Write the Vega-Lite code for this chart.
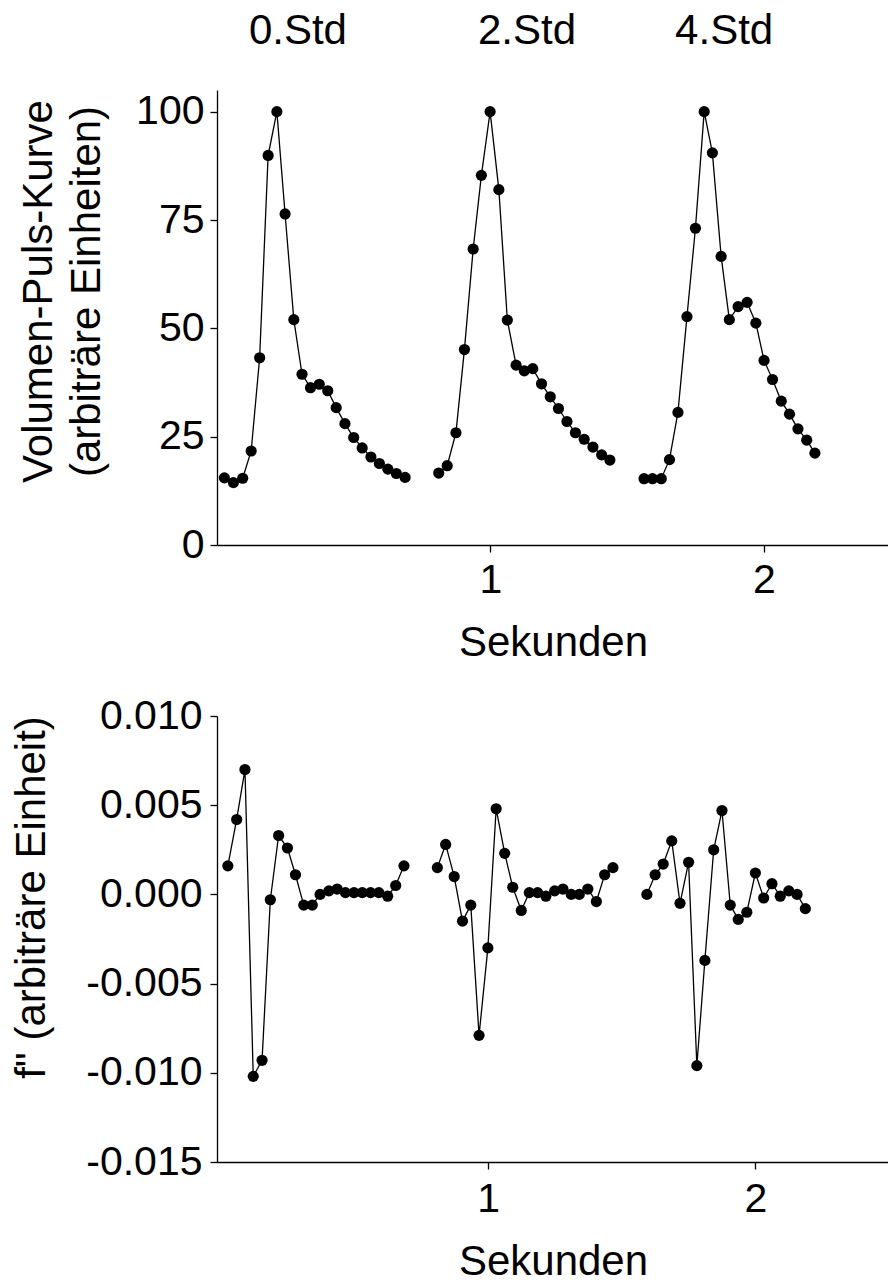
{
  "$schema": "https://vega.github.io/schema/vega-lite/v6.json",
  "padding": {"left": 9, "top": 9, "right": 0, "bottom": 0},
  "spacing": 32,
  "datasets": {
    "vpk": [
      {"t": 0.027, "v": 15.5, "c": 1}, {"t": 0.060, "v": 14.4, "c": 1}, {"t": 0.094, "v": 15.4, "c": 1}, {"t": 0.125, "v": 21.7, "c": 1},
      {"t": 0.156, "v": 43.2, "c": 1}, {"t": 0.187, "v": 89.9, "c": 1}, {"t": 0.219, "v": 100, "c": 1}, {"t": 0.249, "v": 76.4, "c": 1},
      {"t": 0.281, "v": 52.0, "c": 1}, {"t": 0.311, "v": 39.4, "c": 1}, {"t": 0.342, "v": 36.3, "c": 1}, {"t": 0.374, "v": 37.1, "c": 1},
      {"t": 0.405, "v": 35.6, "c": 1}, {"t": 0.436, "v": 31.7, "c": 1}, {"t": 0.468, "v": 28.0, "c": 1}, {"t": 0.500, "v": 24.8, "c": 1},
      {"t": 0.531, "v": 22.4, "c": 1}, {"t": 0.563, "v": 20.3, "c": 1}, {"t": 0.594, "v": 18.8, "c": 1}, {"t": 0.625, "v": 17.5, "c": 1},
      {"t": 0.656, "v": 16.5, "c": 1}, {"t": 0.688, "v": 15.6, "c": 1},
      {"t": 0.811, "v": 16.6, "c": 2}, {"t": 0.842, "v": 18.3, "c": 2}, {"t": 0.874, "v": 25.9, "c": 2}, {"t": 0.905, "v": 45.1, "c": 2},
      {"t": 0.937, "v": 68.3, "c": 2}, {"t": 0.967, "v": 85.3, "c": 2}, {"t": 0.999, "v": 100, "c": 2}, {"t": 1.031, "v": 82.0, "c": 2},
      {"t": 1.062, "v": 51.9, "c": 2}, {"t": 1.094, "v": 41.5, "c": 2}, {"t": 1.124, "v": 40.2, "c": 2}, {"t": 1.155, "v": 40.7, "c": 2},
      {"t": 1.187, "v": 37.2, "c": 2}, {"t": 1.219, "v": 34.2, "c": 2}, {"t": 1.249, "v": 31.5, "c": 2}, {"t": 1.280, "v": 28.5, "c": 2},
      {"t": 1.311, "v": 25.9, "c": 2}, {"t": 1.343, "v": 24.4, "c": 2}, {"t": 1.375, "v": 22.6, "c": 2}, {"t": 1.407, "v": 20.8, "c": 2},
      {"t": 1.437, "v": 19.6, "c": 2},
      {"t": 1.562, "v": 15.3, "c": 3}, {"t": 1.593, "v": 15.3, "c": 3}, {"t": 1.625, "v": 15.3, "c": 3}, {"t": 1.655, "v": 19.7, "c": 3},
      {"t": 1.686, "v": 30.6, "c": 3}, {"t": 1.719, "v": 52.7, "c": 3}, {"t": 1.750, "v": 73.1, "c": 3}, {"t": 1.782, "v": 100, "c": 3},
      {"t": 1.812, "v": 90.5, "c": 3}, {"t": 1.844, "v": 66.6, "c": 3}, {"t": 1.874, "v": 52.0, "c": 3}, {"t": 1.906, "v": 55.0, "c": 3},
      {"t": 1.939, "v": 56.0, "c": 3}, {"t": 1.971, "v": 51.2, "c": 3}, {"t": 2.001, "v": 42.6, "c": 3}, {"t": 2.032, "v": 38.2, "c": 3},
      {"t": 2.064, "v": 33.2, "c": 3}, {"t": 2.094, "v": 30.2, "c": 3}, {"t": 2.125, "v": 26.8, "c": 3}, {"t": 2.157, "v": 24.2, "c": 3},
      {"t": 2.187, "v": 21.2, "c": 3}
    ],
    "labels": [
      {"t": 0.296, "v": 118.7, "label": "0.Std"},
      {"t": 1.134, "v": 118.7, "label": "2.Std"},
      {"t": 1.855, "v": 118.7, "label": "4.Std"}
    ],
    "f2": [
      {"t": 0.026, "v": 0.0016, "c": 1}, {"t": 0.059, "v": 0.0042, "c": 1}, {"t": 0.090, "v": 0.0070, "c": 1}, {"t": 0.121, "v": -0.0102, "c": 1},
      {"t": 0.154, "v": -0.0093, "c": 1}, {"t": 0.185, "v": -0.0003, "c": 1}, {"t": 0.216, "v": 0.0033, "c": 1}, {"t": 0.249, "v": 0.0026, "c": 1},
      {"t": 0.279, "v": 0.0011, "c": 1}, {"t": 0.310, "v": -0.0006, "c": 1}, {"t": 0.342, "v": -0.0006, "c": 1}, {"t": 0.371, "v": 0.0000, "c": 1},
      {"t": 0.404, "v": 0.0002, "c": 1}, {"t": 0.435, "v": 0.0003, "c": 1}, {"t": 0.466, "v": 0.0001, "c": 1}, {"t": 0.498, "v": 0.0001, "c": 1},
      {"t": 0.529, "v": 0.0001, "c": 1}, {"t": 0.560, "v": 0.0001, "c": 1}, {"t": 0.591, "v": 0.0001, "c": 1}, {"t": 0.624, "v": -0.0001, "c": 1},
      {"t": 0.654, "v": 0.0005, "c": 1}, {"t": 0.685, "v": 0.0016, "c": 1},
      {"t": 0.810, "v": 0.0015, "c": 2}, {"t": 0.841, "v": 0.0028, "c": 2}, {"t": 0.873, "v": 0.0010, "c": 2}, {"t": 0.904, "v": -0.0015, "c": 2},
      {"t": 0.935, "v": -0.0006, "c": 2}, {"t": 0.966, "v": -0.0079, "c": 2}, {"t": 0.999, "v": -0.0030, "c": 2}, {"t": 1.030, "v": 0.0048, "c": 2},
      {"t": 1.062, "v": 0.0023, "c": 2}, {"t": 1.092, "v": 0.0004, "c": 2}, {"t": 1.124, "v": -0.0009, "c": 2}, {"t": 1.154, "v": 0.0001, "c": 2},
      {"t": 1.185, "v": 0.0001, "c": 2}, {"t": 1.216, "v": -0.0001, "c": 2}, {"t": 1.249, "v": 0.0002, "c": 2}, {"t": 1.280, "v": 0.0003, "c": 2},
      {"t": 1.311, "v": 0.0000, "c": 2}, {"t": 1.341, "v": 0.0000, "c": 2}, {"t": 1.373, "v": 0.0003, "c": 2}, {"t": 1.405, "v": -0.0004, "c": 2},
      {"t": 1.436, "v": 0.0011, "c": 2}, {"t": 1.467, "v": 0.0015, "c": 2},
      {"t": 1.594, "v": 0.0000, "c": 3}, {"t": 1.625, "v": 0.0011, "c": 3}, {"t": 1.655, "v": 0.0017, "c": 3}, {"t": 1.687, "v": 0.0030, "c": 3},
      {"t": 1.718, "v": -0.0005, "c": 3}, {"t": 1.750, "v": 0.0018, "c": 3}, {"t": 1.781, "v": -0.0096, "c": 3}, {"t": 1.811, "v": -0.0037, "c": 3},
      {"t": 1.844, "v": 0.0025, "c": 3}, {"t": 1.875, "v": 0.0047, "c": 3}, {"t": 1.906, "v": -0.0006, "c": 3}, {"t": 1.936, "v": -0.0014, "c": 3},
      {"t": 1.968, "v": -0.0010, "c": 3}, {"t": 2.000, "v": 0.0012, "c": 3}, {"t": 2.031, "v": -0.0002, "c": 3}, {"t": 2.062, "v": 0.0006, "c": 3},
      {"t": 2.093, "v": -0.0001, "c": 3}, {"t": 2.125, "v": 0.0002, "c": 3}, {"t": 2.156, "v": 0.0000, "c": 3}, {"t": 2.187, "v": -0.0008, "c": 3}
    ]
  },
  "vconcat": [
    {
      "width": 672,
      "height": 455,
      "layer": [
        {
          "data": {"name": "vpk"},
          "mark": {"type": "line", "color": "#000", "strokeWidth": 1.3},
          "encoding": {
            "x": {"field": "t", "type": "quantitative", "scale": {"domain": [0, 2.458], "nice": false, "zero": false},
                  "axis": {"values": [1, 2], "format": "d", "title": "Sekunden", "labelPadding": 8, "titlePadding": 22, "labelOverlap": false}},
            "y": {"field": "v", "type": "quantitative", "scale": {"domain": [0, 105], "nice": false},
                  "axis": {"values": [0, 25, 50, 75, 100], "title": ["Volumen-Puls-Kurve", "(arbiträre Einheiten)"], "labelPadding": 6,
                           "titleX": -157, "titleY": 201, "titleLineHeight": 48, "labelOverlap": false}},
            "detail": {"field": "c", "type": "nominal"}
          }
        },
        {
          "data": {"name": "vpk"},
          "mark": {"type": "point", "filled": true, "color": "#000", "size": 125, "opacity": 1},
          "encoding": {
            "x": {"field": "t", "type": "quantitative"},
            "y": {"field": "v", "type": "quantitative"}
          }
        },
        {
          "data": {"name": "labels"},
          "mark": {"type": "text", "fontSize": 42, "font": "Liberation Sans", "color": "#000", "baseline": "middle", "align": "center"},
          "encoding": {
            "x": {"field": "t", "type": "quantitative"},
            "y": {"field": "v", "type": "quantitative"},
            "text": {"field": "label"}
          }
        }
      ]
    },
    {
      "width": 672,
      "height": 446,
      "layer": [
        {
          "data": {"name": "f2"},
          "mark": {"type": "line", "color": "#000", "strokeWidth": 1.3},
          "encoding": {
            "x": {"field": "t", "type": "quantitative", "scale": {"domain": [-0.0146, 2.5], "nice": false, "zero": false},
                  "axis": {"values": [1, 2], "format": "d", "title": "Sekunden", "labelPadding": 10, "titlePadding": 22, "labelOverlap": false}},
            "y": {"field": "v", "type": "quantitative", "scale": {"domain": [-0.015, 0.010], "nice": false, "zero": false},
                  "axis": {"values": [-0.015, -0.01, -0.005, 0, 0.005, 0.01], "labelExpr": "replace(format(datum.value, '.3f'), '\u2212', '-')",
                           "title": "f\" (arbiträre Einheit)", "labelPadding": 8, "titleX": -164, "titleY": 181, "labelOverlap": false}},
            "detail": {"field": "c", "type": "nominal"}
          }
        },
        {
          "data": {"name": "f2"},
          "mark": {"type": "point", "filled": true, "color": "#000", "size": 125, "opacity": 1},
          "encoding": {
            "x": {"field": "t", "type": "quantitative"},
            "y": {"field": "v", "type": "quantitative"}
          }
        }
      ]
    }
  ],
  "config": {
    "font": "Liberation Sans",
    "view": {"stroke": null},
    "axis": {
      "grid": false,
      "domainColor": "#000",
      "domainWidth": 1.3,
      "tickColor": "#000",
      "tickWidth": 1.3,
      "tickSize": 7,
      "labelColor": "#000",
      "titleColor": "#000",
      "labelFont": "Liberation Sans",
      "titleFont": "Liberation Sans",
      "labelFontSize": 41,
      "titleFontSize": 42,
      "titleFontWeight": "normal"
    }
  }
}
